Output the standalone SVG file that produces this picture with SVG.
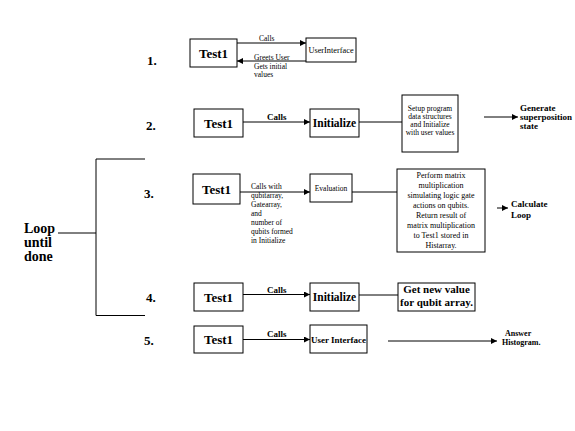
<svg xmlns="http://www.w3.org/2000/svg" width="575" height="431" viewBox="0 0 575 431">
<defs>
<marker id="ah" markerUnits="userSpaceOnUse" markerWidth="7" markerHeight="6" refX="6" refY="3" orient="auto">
<path d="M0,0 L6,3 L0,6 z" fill="#000"/>
</marker>
</defs>
<style>
.b{fill:#fff;stroke:#000;stroke-width:1}
.l{stroke:#000;stroke-width:1;fill:none}
.a{stroke:#000;stroke-width:1;fill:none;marker-end:url(#ah)}
text{font-family:"Liberation Serif","Times New Roman",serif;fill:#000}
.n{font-size:13px;font-weight:bold}
.t{font-size:13px;font-weight:bold;text-anchor:middle}
.s{font-size:7.5px}
.sb{font-size:9px;font-weight:bold}
.c{text-anchor:middle}
</style>
<rect width="575" height="431" fill="#fff"/>
<g id="connectors">
<line class="a" x1="237" y1="43" x2="306" y2="43"/>
<line class="a" x1="306" y1="61" x2="237" y2="61"/>
<line class="a" x1="243" y1="122" x2="310" y2="122"/>
<line class="l" x1="359" y1="122" x2="402" y2="122"/>
<line class="a" x1="484" y1="117" x2="518" y2="117"/>
<line class="a" x1="240" y1="192" x2="310" y2="192"/>
<line class="l" x1="352" y1="192" x2="397" y2="192"/>
<line class="a" x1="497" y1="208" x2="508" y2="208"/>
<line class="a" x1="243" y1="294.5" x2="310" y2="294.5"/>
<line class="l" x1="359" y1="295" x2="398" y2="295"/>
<line class="a" x1="243" y1="339.5" x2="310" y2="339.5"/>
<line class="a" x1="388" y1="341" x2="497" y2="341"/>
<polyline class="l" points="145,159 96,159 96,315.5 145,315.5"/>
<line class="l" x1="58" y1="233" x2="96" y2="233"/>
</g>
<g id="labels">
<text class="n" x="147" y="65">1.</text>
<text class="n" x="146" y="130">2.</text>
<text class="n" x="144" y="198">3.</text>
<text class="n" x="146" y="302">4.</text>
<text class="n" x="144" y="345">5.</text>
<text x="24" y="233" style="font-size:14px;font-weight:bold">Loop</text>
<text x="24" y="247" style="font-size:14px;font-weight:bold">until</text>
<text x="24" y="261" style="font-size:14px;font-weight:bold">done</text>
<text class="s" x="259" y="41">Calls</text>
<text class="s" x="254" y="59.5">Greets User</text>
<text class="s" x="254" y="68.5">Gets initial</text>
<text class="s" x="254" y="77">values</text>
<text class="sb" x="267" y="120">Calls</text>
<text class="sb" x="520" y="111">Generate</text>
<text class="sb" x="520" y="120">superposition</text>
<text class="sb" x="520" y="129">state</text>
<text class="s" x="251" y="189">Calls with</text>
<text class="s" x="251" y="198">qubitarray,</text>
<text class="s" x="251" y="207">Gatearray,</text>
<text class="s" x="251" y="216">and</text>
<text class="s" x="251" y="225">number of</text>
<text class="s" x="251" y="234">qubits formed</text>
<text class="s" x="251" y="243">in Initialize</text>
<text class="sb" x="511" y="207">Calculate</text>
<text class="sb" x="511" y="218">Loop</text>
<text class="sb" x="267" y="292.5">Calls</text>
<text class="sb" x="267" y="337">Calls</text>
<text x="505" y="336" style="font-size:8px;font-weight:bold">Answer</text>
<text x="502" y="345" style="font-size:8px;font-weight:bold">Histogram.</text>
</g>
<g id="n1-test1"><rect class="b" x="190" y="39" width="47" height="28"/><text class="t" x="213.5" y="57.5">Test1</text></g>
<g id="n1-ui"><rect class="b" x="306" y="38" width="50" height="24"/><text class="c" x="331" y="53" style="font-size:8.3px">UserInterface</text></g>
<g id="n2-test1"><rect class="b" x="194" y="109" width="49" height="28"/><text class="t" x="218.5" y="127.5">Test1</text></g>
<g id="n2-init"><rect class="b" x="310" y="109" width="49" height="28"/><text class="c" x="334.5" y="127" style="font-size:11.5px;font-weight:bold">Initialize</text></g>
<g id="n2-setup"><rect class="b" x="402" y="95" width="56" height="57"/>
<text class="s c" x="430" y="110.5">Setup program</text>
<text class="s c" x="430" y="119">data structures</text>
<text class="s c" x="430" y="127">and Initialize</text>
<text class="s c" x="430" y="135">with user values</text></g>
<g id="n3-test1"><rect class="b" x="193" y="174" width="47" height="30"/><text class="t" x="216.5" y="193.5">Test1</text></g>
<g id="n3-eval"><rect class="b" x="310" y="174" width="42" height="28"/><text class="s c" x="331" y="191">Evaluation</text></g>
<g id="n3-matrix"><rect class="b" x="397" y="169" width="88" height="83"/>
<text class="c" x="441" y="178" style="font-size:8px">Perform  matrix</text>
<text class="c" x="441" y="188" style="font-size:8px">multiplication</text>
<text class="c" x="441" y="198" style="font-size:8px">simulating logic gate</text>
<text class="c" x="441" y="207.5" style="font-size:8px">actions on qubits.</text>
<text class="c" x="441" y="217.5" style="font-size:8px">Return result of</text>
<text class="c" x="441" y="227.5" style="font-size:8px">matrix multiplication</text>
<text class="c" x="441" y="237.5" style="font-size:8px">to Test1 stored in</text>
<text class="c" x="441" y="247.5" style="font-size:8px">Histarray.</text></g>
<g id="n4-test1"><rect class="b" x="194" y="283" width="49" height="28"/><text class="t" x="218.5" y="301.5">Test1</text></g>
<g id="n4-init"><rect class="b" x="310" y="283" width="49" height="28"/><text class="c" x="334.5" y="301" style="font-size:11.5px;font-weight:bold">Initialize</text></g>
<g id="n4-getnew"><rect class="b" x="398" y="283" width="77" height="28"/>
<text class="c" x="436.5" y="293" style="font-size:11px;font-weight:bold">Get new value</text>
<text class="c" x="436.5" y="306" style="font-size:11px;font-weight:bold">for qubit array.</text></g>
<g id="n5-test1"><rect class="b" x="194" y="326" width="49" height="27"/><text class="t" x="218.5" y="344">Test1</text></g>
<g id="n5-ui"><rect class="b" x="310" y="325" width="57" height="28"/><text x="311" y="343" style="font-size:9px;font-weight:bold" textLength="55" lengthAdjust="spacingAndGlyphs">User Interface</text></g>
</svg>
